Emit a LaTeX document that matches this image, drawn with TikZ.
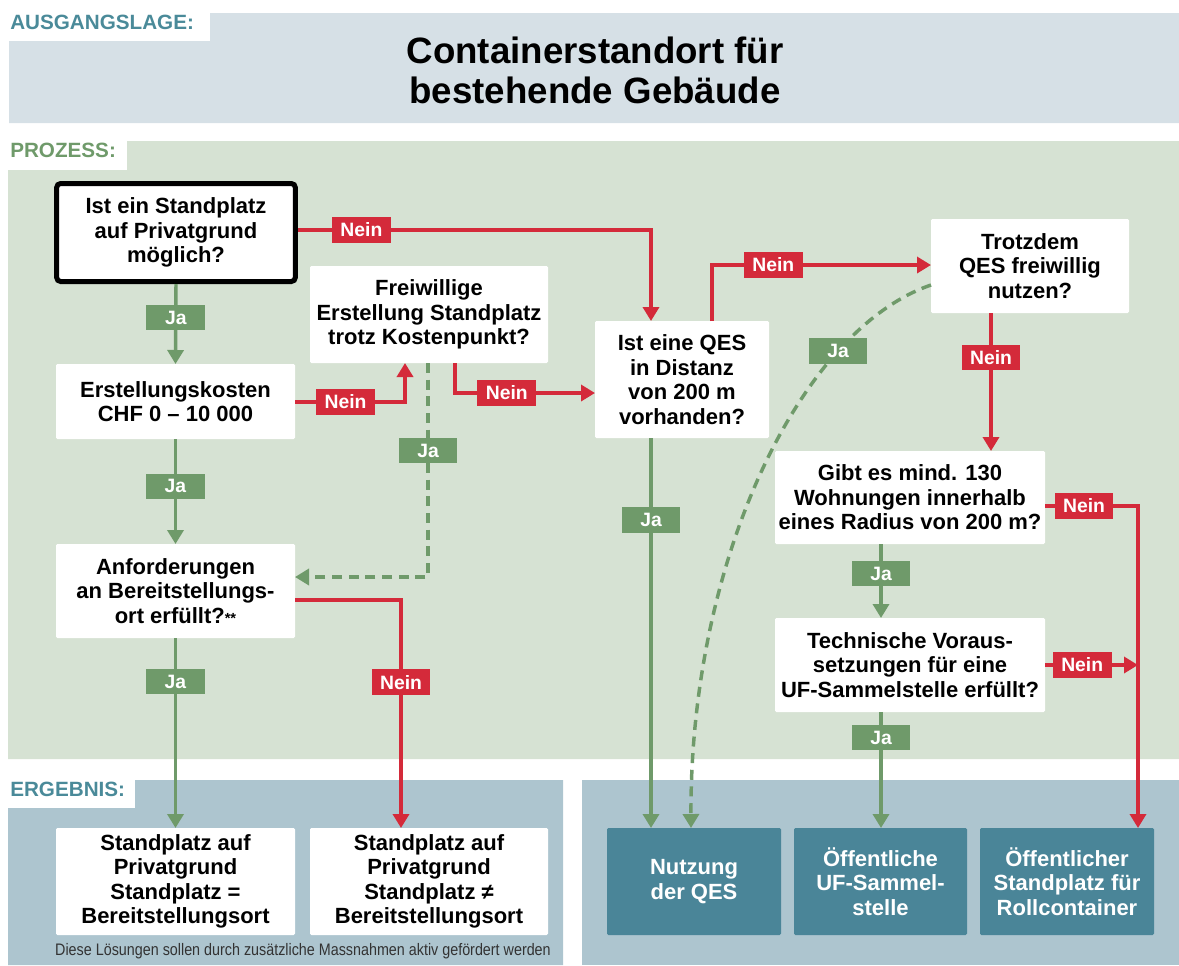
\documentclass[tikz,border=0pt]{standalone}
\usepackage{fontspec}
\setmainfont{Liberation Sans}
\newfontfamily\notefamily{Liberation Sans}[FakeStretch=0.86]
\usepackage{xcolor}
\usepackage{tikz}
\usetikzlibrary{arrows.meta,positioning,calc}

\definecolor{jagreen}{HTML}{6F9A6A}
\definecolor{neinred}{HTML}{D42A3A}
\definecolor{headblue}{HTML}{D6E0E6}
\definecolor{procgreen}{HTML}{D6E2D3}
\definecolor{resblue}{HTML}{ADC5CF}
\definecolor{resteal}{HTML}{4A8598}
\definecolor{labelteal}{HTML}{4A8A99}

\newcommand{\flowfont}{\fontsize{16.5}{18.4}\selectfont\bfseries}
\newcommand{\tagfont}{\fontsize{14.5}{15}\selectfont\bfseries}
\newcommand{\headfont}{\fontsize{15.5}{16}\selectfont\bfseries}
\newcommand{\titlefont}{\fontsize{27.5}{30}\selectfont\bfseries}

\begin{document}
\begin{tikzpicture}[x=0.75pt,y=-0.75pt,
    box/.style={fill=white,align=center,inner sep=0pt,outer sep=0pt,font=\flowfont,rounded corners=1pt},
    startbox/.style={box,draw=black,line width=3.75pt,outer sep=1.875pt,rounded corners=3pt},
    resbox/.style={box,fill=resteal,text=white},
    jaline/.style={draw=jagreen,line width=2.6pt,-{Triangle[width=12pt,length=10.5pt]}},
    neinline/.style={draw=neinred,line width=2.6pt,-{Triangle[width=12pt,length=10.5pt]}},
    jadash/.style={jaline,dash pattern=on 7.5pt off 5pt},
    jalbl/.style={fill=jagreen,text=white,font=\tagfont,minimum width=44pt,minimum height=19pt,inner sep=0pt},
    neinlbl/.style={jalbl,fill=neinred}]
  \useasboundingbox (0,0) rectangle (1179,965);

  % --- panels ---
  \fill[headblue] (9,41) -- (210,41) -- (210,13) -- (1179,13) -- (1179,123) -- (9,123) -- cycle;
  \fill[procgreen] (8,170) -- (127,170) -- (127,141) -- (1179,141) -- (1179,759) -- (8,759) -- cycle;
  \fill[resblue] (8,808) -- (135,808) -- (135,780) -- (563,780) -- (563,965) -- (8,965) -- cycle;
  \fill[resblue] (582,780) rectangle (1179,965);

  \node[anchor=base west,font=\headfont,text=labelteal,inner sep=0pt] (hausgang) at (10,29) {AUSGANGSLAGE:};
  \node[anchor=base west,font=\headfont,text=jagreen,inner sep=0pt] (hprozess) at (10,157) {PROZESS:};
  \node[anchor=base west,font=\headfont,text=labelteal,inner sep=0pt] (hergebnis) at (10,796) {ERGEBNIS:};
  \node[font=\titlefont,align=center] (title) at (595,70) {Containerstandort für\\bestehende Gebäude};

  % --- questions ---
  \node[startbox,minimum width=179pt,minimum height=73.5pt] (start) at (176,232.5) {Ist ein Standplatz\\auf Privatgrund\\möglich?};
  \node[box,minimum width=179.25pt,minimum height=56.25pt] (kosten) at (175.5,401.5) {Erstellungskosten\\CHF 0 – 10~000};
  \node[box,minimum width=178.5pt,minimum height=72.75pt] (freiw) at (429,314.5) {Freiwillige\\Erstellung Standplatz\\trotz Kostenpunkt?};
  \node[box,minimum width=179.25pt,minimum height=70.5pt] (anf) at (175.5,591) {Anforderungen\\an Bereitstellungs-\\ort erfüllt?{\fontsize{11}{11}\selectfont **}};
  \node[box,minimum width=130.5pt,minimum height=87.75pt] (qes) at (682,379.5) {Ist eine QES\\in Distanz\\von 200 m\\vorhanden?};
  \node[box,minimum width=148.5pt,minimum height=70.5pt] (trotz) at (1030,266) {Trotzdem\\QES freiwillig\\nutzen?};
  \node[box,minimum width=202.5pt,minimum height=69.75pt] (gibt) at (910,497.5) {Gibt es mind. 130\\Wohnungen innerhalb\\eines Radius von 200 m?};
  \node[box,minimum width=202.5pt,minimum height=70.5pt] (tech) at (910,665) {Technische Voraus-\\setzungen für eine\\UF-Sammelstelle erfüllt?};

  % --- results ---
  \node[box,minimum width=179.25pt,minimum height=80.25pt] (res1) at (175.5,881.5) {Standplatz auf\\Privatgrund\\Standplatz =\\Bereitstellungsort};
  \node[box,minimum width=178.5pt,minimum height=80.25pt] (res2) at (429,881.5) {Standplatz auf\\Privatgrund\\Standplatz ≠\\Bereitstellungsort};
  \node[resbox,minimum width=130.5pt,minimum height=80.25pt] (res3) at (694,881.5) {Nutzung\\der QES};
  \node[resbox,minimum width=129.75pt,minimum height=80.25pt] (res4) at (880.5,881.5) {Öffentliche\\UF-Sammel-\\stelle};
  \node[resbox,minimum width=130.5pt,minimum height=80.25pt] (res5) at (1067,881.5) {Öffentlicher\\Standplatz für\\Rollcontainer};
  \node[font=\notefamily\fontsize{12.5}{13}\selectfont,text=black!80] (note) at (303,951) {Diese Lösungen sollen durch zusätzliche Massnahmen aktiv gefördert werden};

  % --- bend points ---
  \coordinate (k1) at (651,230);
  \coordinate (k2) at (405,402);
  \coordinate (k3) at (455,393);
  \coordinate (k4) at (428,577);
  \coordinate (k5) at (401,600);
  \coordinate (k6) at (712,265);
  \coordinate (k7) at (931,285);
  \coordinate (k8) at (691,828);
  \coordinate (k9) at (991,400);
  \coordinate (k10) at (881,600);
  \coordinate (k11) at (1138,506);

  % --- left branch ---
  \draw[jaline] (start.south) -- node[jalbl,pos=0.42] {Ja} (kosten.north);
  \draw[neinline] (start.east |- k1) -- node[neinlbl,pos=0.18] {Nein} (k1) -- (k1 |- qes.north);
  \draw[neinline] (kosten.east |- k2) -- node[neinlbl,pos=0.46] {Nein} (k2) -- (k2 |- freiw.south);
  \draw[neinline] (freiw.south -| k3) -- (k3) -- node[neinlbl,pos=0.37] {Nein} (k3 -| qes.west);
  \draw[jadash] (freiw.south -| k4) -- node[jalbl,pos=0.41] {Ja} (k4) -- (k4 -| anf.east);
  \draw[jaline] (kosten.south) -- node[jalbl,pos=0.45] {Ja} (anf.north);
  \draw[jaline] (anf.south) -- node[jalbl,pos=0.23] {Ja} (res1.north);
  \draw[neinline] (anf.east |- k5) -- (k5) -- node[neinlbl,pos=0.36] {Nein} (k5 |- res2.north);

  % --- right branch ---
  \draw[jaline] (qes.south -| k1) -- node[jalbl,pos=0.21] {Ja} (k1 |- res3.north);
  \draw[neinline] (qes.north -| k6) -- (k6) -- node[neinlbl,pos=0.28] {Nein} (k6 -| trotz.west);
  \draw[jadash] (k7) .. controls (800,330) and (690,560) .. (k8) node[jalbl,pos=0.25] {Ja};
  \draw[neinline] (k9 |- trotz.south) -- node[neinlbl,pos=0.32] {Nein} (k9 |- gibt.north);
  \draw[jaline] (k10 |- gibt.south) -- node[jalbl,pos=0.4] {Ja} (k10 |- tech.north);
  \draw[jaline] (k10 |- tech.south) -- node[jalbl,pos=0.22] {Ja} (k10 |- res4.north);
  \draw[neinline] (gibt.east |- k11) -- node[neinlbl,pos=0.42] {Nein} (k11) -- (k11 |- res5.north);
  \draw[neinline] (tech.east) -- node[neinlbl,pos=0.4] {Nein} (tech.east -| k11);
\end{tikzpicture}
\end{document}
